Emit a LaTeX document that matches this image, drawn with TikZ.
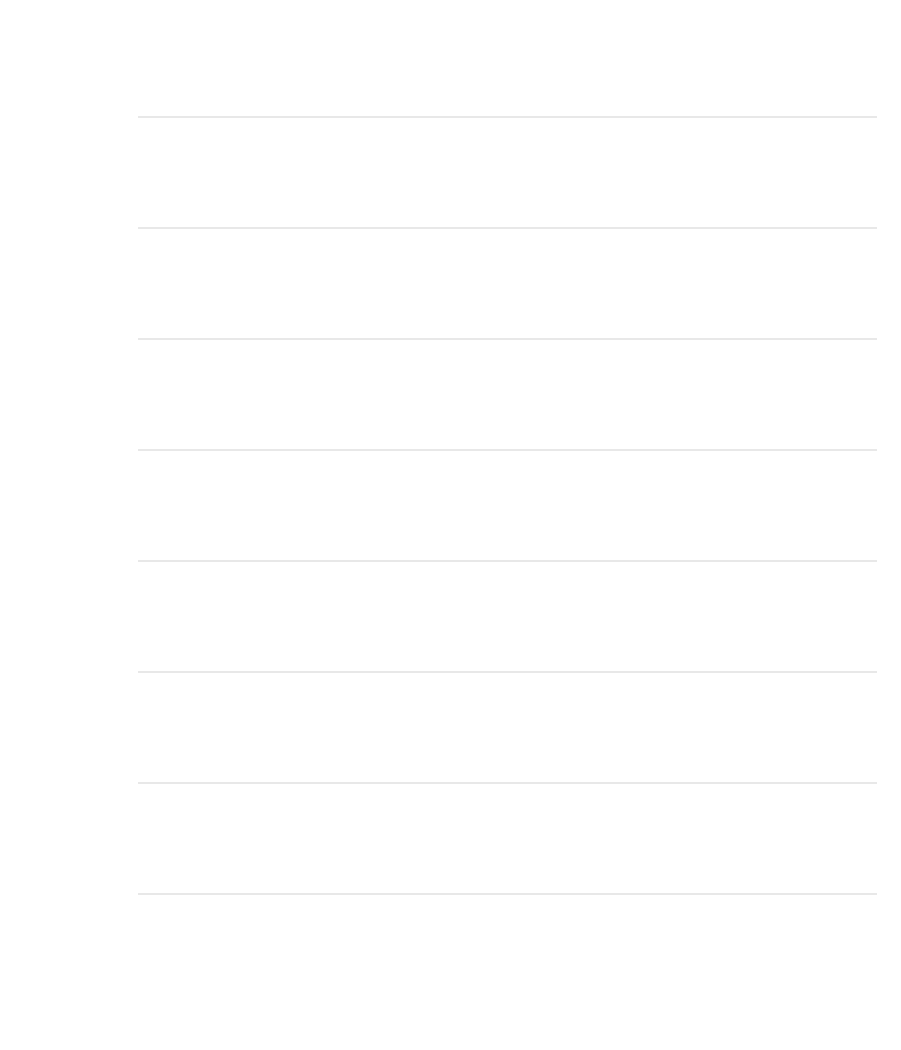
\documentclass[tikz,border=0pt]{standalone}
\usetikzlibrary{positioning}
\definecolor{gridgray}{HTML}{E8E8E8}
\tikzset{gridline/.style={draw=gridgray,line width=1.1pt}}
\begin{document}
\begin{tikzpicture}[x=0.02cm,y=-0.02cm]
            \useasboundingbox[fill=white] (0,0) rectangle (900,1050);
            \foreach \k in {0,...,7}
                \draw[gridline] (138,117+111*\k) -- (877,117+111*\k);
        \end{tikzpicture}
\end{document}
